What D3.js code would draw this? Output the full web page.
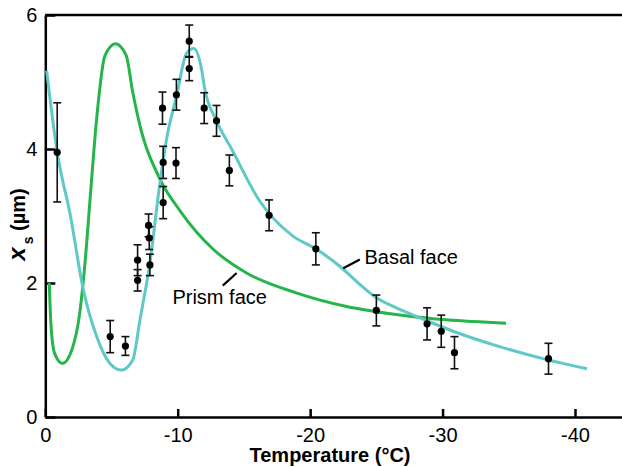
<!DOCTYPE html>
<html>
<head>
  <meta charset="utf-8">
  <script src="https://cdnjs.cloudflare.com/ajax/libs/d3/7.8.5/d3.min.js"></script>
  <style>
    body, html {
      margin: 0;
      padding: 0;
      background: white;
      overflow: hidden;
    }
    svg text {
      font-family: 'Liberation Sans', Arial, sans-serif;
      fill: black;
    }
  </style>
</head>
<body>
  <svg id="chart" width="622" height="467"></svg>
  <script>
    // measured points: temperature (°C), x_s (µm), error (±)
    const temps = [-0.9, -4.9, -6.05, -6.97, -6.97, -7.8, -7.85, -7.9, -8.85, -8.9, -8.9,
      -9.9, -9.87, -10.87, -10.87, -12.0, -12.93, -13.9, -16.9, -20.43, -25.0, -28.83, -29.9, -30.9, -38.0];
    const xsValues = [3.95, 1.2, 1.06, 2.34, 2.04, 2.86, 2.67, 2.27, 4.61, 3.8, 3.2,
      4.81, 3.79, 5.61, 5.2, 4.61, 4.42, 3.68, 3.01, 2.51, 1.59, 1.39, 1.28, 0.96, 0.87];
    const xsErrors = [0.74, 0.24, 0.14, 0.23, 0.16, 0.17, 0.17, 0.16, 0.24, 0.24, 0.24,
      0.23, 0.23, 0.24, 0.18, 0.23, 0.23, 0.23, 0.23, 0.24, 0.23, 0.24, 0.24, 0.24, 0.23];

    // model curves
    const prismTemps = [-0.3, -0.42, -0.7, -1.3, -2.0, -2.6, -3.0, -3.4, -3.9, -4.5, -5.3, -6.1, -6.6,
      -7.15, -8.66, -10.2, -12.7, -15.2, -19.0, -22.75, -26.5, -30.3, -34.8];
    const prismValues = [2.0, 1.4, 0.95, 0.8, 1.0, 1.55, 2.3, 3.3, 4.5, 5.39, 5.57, 5.4, 4.85,
      4.35, 3.55, 3.07, 2.5, 2.15, 1.85, 1.65, 1.53, 1.45, 1.4];

    const basalTemps = [-0.1, -0.9, -1.9, -2.82, -3.88, -4.88, -5.77, -6.6, -7.15, -7.9, -8.66, -9.16,
      -9.92, -10.67, -11.2, -11.8, -12.0, -12.93, -14.07, -16.2, -18.7, -20.43, -22.24, -23.75, -25.0,
      -26.27, -28.3, -30.8, -34.3, -37.8, -40.9];
    const basalValues = [5.17, 3.95, 3.0, 1.95, 1.2, 0.8, 0.7, 0.85, 1.45, 2.3, 3.5, 4.15,
      4.8, 5.43, 5.5, 5.19, 4.94, 4.42, 4.0, 3.22, 2.7, 2.51, 2.25, 1.98, 1.78,
      1.65, 1.48, 1.28, 1.05, 0.86, 0.72];

    const xTicks = [0, -10, -20, -30, -40];
    const yTicks = [0, 2, 4, 6];

    const labels = [
      { text: "Basal face", t: -24.1, v: 2.29, lead: [[-22.5, 2.22], [-23.75, 2.35]] },
      { text: "Prism face", t: -9.6, v: 1.69, lead: [[-13.4, 1.96], [-14.45, 2.15]] }
    ];

    const prismColor = "#26b54a";
    const basalColor = "#5ec9c6";

    const svg = d3.select("#chart");
    const plotLeft = 45.3, plotRight = 622, plotTop = 15, plotBottom = 417;

    const x = d3.scaleLinear().domain([0, -43.55]).range([plotLeft, plotRight]);
    const y = d3.scaleLinear().domain([0, 6]).range([plotBottom, plotTop]);

    // top frame
    svg.append("line")
      .attr("x1", plotLeft).attr("x2", plotRight)
      .attr("y1", plotTop).attr("y2", plotTop)
      .attr("stroke", "black").attr("stroke-width", 2.5);

    const xAxis = svg.append("g")
      .attr("transform", `translate(0,${plotBottom})`)
      .call(d3.axisBottom(x).tickValues(xTicks).tickFormat(d => String(d))
        .tickSizeInner(-8).tickSizeOuter(0).tickPadding(11));

    const yAxis = svg.append("g")
      .attr("transform", `translate(${plotLeft},0)`)
      .call(d3.axisLeft(y).tickValues(yTicks).tickFormat(d => String(d))
        .tickSizeInner(-10).tickSizeOuter(0).tickPadding(8));

    [xAxis, yAxis].forEach(a => {
      a.select(".domain").attr("stroke", "black").attr("stroke-width", 2.5);
      a.selectAll(".tick line").attr("stroke", "black").attr("stroke-width", 2.5);
      a.selectAll(".tick text").style("font-size", "20px")
        .style("font-family", "'Liberation Sans', Arial, sans-serif");
    });

    // axis titles
    svg.append("text")
      .attr("x", 330).attr("y", 462)
      .attr("text-anchor", "middle")
      .style("font-size", "20px").style("font-weight", "bold")
      .text("Temperature (°C)");

    const yTitle = svg.append("text")
      .attr("transform", "translate(24.5,224.5) rotate(-90)")
      .attr("text-anchor", "middle")
      .style("font-size", "20px").style("font-weight", "bold");
    yTitle.append("tspan").style("font-style", "italic").style("font-size", "24px").text("x");
    yTitle.append("tspan").attr("dx", 3).attr("dy", 8).style("font-size", "14px").text("s");
    yTitle.append("tspan").attr("dy", -8).text(" (µm)");

    // curves
    const line = d3.line()
      .x(d => x(d[0]))
      .y(d => y(d[1]))
      .curve(d3.curveMonotoneX);

    svg.append("path")
      .datum(d3.zip(prismTemps, prismValues))
      .attr("d", line)
      .attr("fill", "none")
      .attr("stroke", prismColor)
      .attr("stroke-width", 3);

    svg.append("path")
      .datum(d3.zip(basalTemps, basalValues))
      .attr("d", line)
      .attr("fill", "none")
      .attr("stroke", basalColor)
      .attr("stroke-width", 3);

    // error bars + points
    const pts = temps.map((t, i) => ({ t: t, v: xsValues[i], e: xsErrors[i] }));
    const cap = 4;

    const eb = svg.append("g").attr("stroke", "#111").attr("stroke-width", 1.6);
    eb.selectAll(".stem").data(pts).join("line")
      .attr("x1", d => x(d.t)).attr("x2", d => x(d.t))
      .attr("y1", d => y(d.v - d.e)).attr("y2", d => y(d.v + d.e));
    eb.selectAll(".capTop").data(pts).join("line")
      .attr("x1", d => x(d.t) - cap).attr("x2", d => x(d.t) + cap)
      .attr("y1", d => y(d.v + d.e)).attr("y2", d => y(d.v + d.e));
    eb.selectAll(".capBot").data(pts).join("line")
      .attr("x1", d => x(d.t) - cap).attr("x2", d => x(d.t) + cap)
      .attr("y1", d => y(d.v - d.e)).attr("y2", d => y(d.v - d.e));

    svg.append("g").selectAll("circle").data(pts).join("circle")
      .attr("cx", d => x(d.t))
      .attr("cy", d => y(d.v))
      .attr("r", 3.6)
      .attr("fill", "black");

    // curve labels
    labels.forEach(l => {
      svg.append("text")
        .attr("x", x(l.t)).attr("y", y(l.v))
        .style("font-size", "20px")
        .text(l.text);
      svg.append("line")
        .attr("x1", x(l.lead[0][0])).attr("y1", y(l.lead[0][1]))
        .attr("x2", x(l.lead[1][0])).attr("y2", y(l.lead[1][1]))
        .attr("stroke", "black").attr("stroke-width", 2.2);
    });
  </script>
</body>
</html>
